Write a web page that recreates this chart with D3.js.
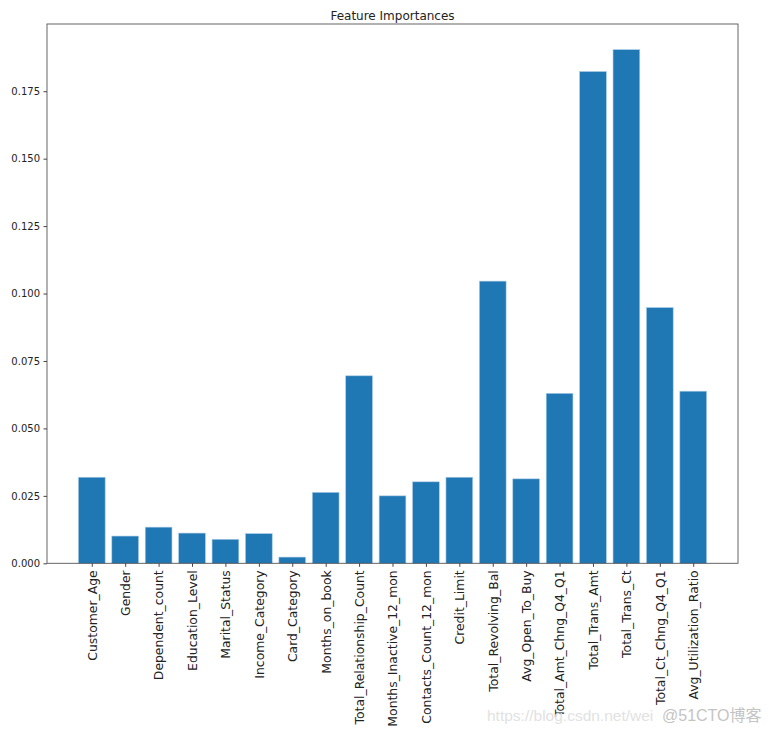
<!DOCTYPE html>
<html>
<head>
<meta charset="utf-8">
<script src="https://cdn.jsdelivr.net/npm/d3@7"></script>
<style>
  body { margin: 0; background: #fff; }
  svg { display: block; font-family: "DejaVu Sans", sans-serif; }
</style>
</head>
<body>
<svg id="chart" width="769" height="735"></svg>
<script>
const features = [
  "Customer_Age", "Gender", "Dependent_count", "Education_Level", "Marital_Status",
  "Income_Category", "Card_Category", "Months_on_book", "Total_Relationship_Count",
  "Months_Inactive_12_mon", "Contacts_Count_12_mon", "Credit_Limit", "Total_Revolving_Bal",
  "Avg_Open_To_Buy", "Total_Amt_Chng_Q4_Q1", "Total_Trans_Amt", "Total_Trans_Ct",
  "Total_Ct_Chng_Q4_Q1", "Avg_Utilization_Ratio"
];
const importances = [
  0.0319, 0.0101, 0.0134, 0.0112, 0.0089,
  0.0110, 0.0023, 0.0263, 0.0695,
  0.0250, 0.0302, 0.0319, 0.1046,
  0.0313, 0.0630, 0.1823, 0.1904,
  0.0948, 0.0638
];
const yTicks = [0, 0.025, 0.05, 0.075, 0.1, 0.125, 0.15, 0.175];
const title = "Feature Importances";

const svg = d3.select("#chart");
const mLeft = 47, mRight = 738, mTop = 24, mBottom = 563.3;

const n = features.length;
const x = d3.scaleLinear()
  .domain([-0.4 - 0.05 * (n - 0.2), (n - 1) + 0.4 + 0.05 * (n - 0.2)])
  .range([mLeft, mRight]);
const yMax = d3.max(importances) * 1.05;
const y = d3.scaleLinear().domain([0, yMax]).range([mBottom, mTop]);

// bars
svg.append("g").selectAll("rect")
  .data(importances)
  .join("rect")
  .attr("x", (d, i) => x(i - 0.4))
  .attr("width", (d, i) => x(i + 0.4) - x(i - 0.4))
  .attr("y", d => y(d))
  .attr("height", d => y(0) - y(d))
  .attr("fill", "#1f77b4")
  .attr("stroke", "#a9cbe6")
  .attr("stroke-width", 0.6);

// frame
svg.append("rect")
  .attr("x", mLeft).attr("y", mTop)
  .attr("width", mRight - mLeft).attr("height", mBottom - mTop)
  .attr("fill", "none").attr("stroke", "#555").attr("stroke-width", 0.9);

// y axis
const yAxis = d3.axisLeft(y).tickValues(yTicks).tickFormat(d3.format(".3f"))
  .tickSize(3.5).tickPadding(3.5);
const gy = svg.append("g").attr("transform", `translate(${mLeft},0)`).call(yAxis);
gy.select(".domain").remove();
gy.selectAll("line").attr("stroke", "#444");
gy.selectAll("text").attr("font-size", 10).attr("fill", "#222")
  .attr("font-family", "DejaVu Sans, sans-serif");

// x axis
const xAxis = d3.axisBottom(x).tickValues(d3.range(n)).tickFormat(i => features[i])
  .tickSize(3.5).tickPadding(3.5);
const gx = svg.append("g").attr("transform", `translate(0,${mBottom})`).call(xAxis);
gx.select(".domain").remove();
gx.selectAll("line").attr("stroke", "#444");
gx.selectAll("text")
  .attr("font-size", 12.4).attr("fill", "#222")
  .attr("font-family", "DejaVu Sans, sans-serif")
  .attr("transform", "rotate(-90)")
  .attr("text-anchor", "end")
  .attr("x", -7)
  .attr("y", 0)
  .attr("dy", "0.35em");

// title
svg.append("text")
  .attr("x", (mLeft + mRight) / 2).attr("y", 19.5)
  .attr("text-anchor", "middle").attr("font-size", 12).attr("fill", "#222")
  .text(title);

// watermark
svg.append("text")
  .attr("x", 487).attr("y", 721)
  .attr("font-size", 15.5).attr("fill", "#e2e2e2")
  .attr("font-family", "Liberation Sans, sans-serif")
  .text("https://blog.csdn.net/wei");
svg.append("text")
  .attr("x", 662).attr("y", 721)
  .attr("font-size", 16).attr("fill", "#c4c4c4")
  .attr("font-family", "Liberation Sans, 'Noto Sans CJK SC', sans-serif")
  .text("@51CTO博客");
</script>
</body>
</html>
